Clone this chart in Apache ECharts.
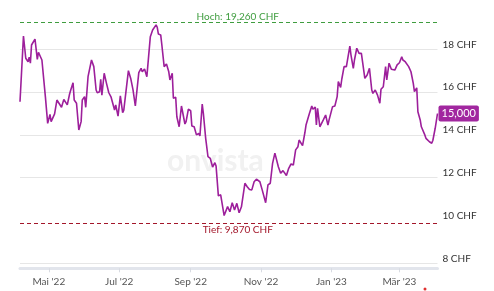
<!DOCTYPE html>
<html>
<head>
<meta charset="utf-8">
<script src="https://cdn.jsdelivr.net/npm/echarts@6/dist/echarts.min.js"></script>
<style>
html,body{margin:0;padding:0;background:#fff;}
#chart{width:494px;height:291px;}
</style>
</head>
<body>
<div id="chart"></div>
<script>
// Start date of the series (day 0)
const startDate = [2022, 3, 6]; // 6 Apr 2022
// Trading days (offset in days from start) and closing prices in CHF
const dayOffsets = [0,3,5,7,8,9,10,13,15,16,17,19,20,22,24,26,27,30,32,33,36,38,41,43,44,46,47,49,51,53,54,56,57,59,62,64,66,67,69,70,71,73,75,77,79,82,83,85,87,89,90,94,96,98,100,103,105,106,108,110,113,115,118,119,120,122,123,125,126,127,129,130,132,133,135,136,138,140,143,144,146,148,149,151,153,155,156,158,159,161,163,165,167,169,170,172,174,177,180,182,184,186,188,190,192,195,197,199,201,203,205,208,210,213,215,217,219,221,224,226,228,231,233,235,237,239,241,242,245,247,248,251,253,254,256,257,258,260,263,265,267,268,271,273,275,276,278,279,281,283,286,287,289,290,292,294,296,297,299,301,303,305,306,308,310,312,313,315,317,318,320,322,323,325,327,329,331,332,334,335,337,339,341,342,344,345,347,348,349,351,352,355,357,358,360,362];
const prices = [15.55,18.62,17.58,17.42,17.63,17.35,18.2,18.48,17.53,17.86,17.84,17.5,17.42,15.79,14.54,14.96,14.62,14.98,15.63,15.71,15.29,15.66,15.4,15.91,16.1,16.44,15.63,15.48,14.23,14.62,15.63,15.79,15.29,16.72,17.5,17.19,16.1,15.97,16.02,16.6,15.86,16.88,16.41,15.97,15.76,15.16,15.4,14.88,15.82,15.04,15.16,17.0,16.64,16.1,15.35,16.91,17.11,16.95,17.08,16.72,18.59,18.9,19.14,19.03,18.71,18.67,18.2,17.19,17.11,17.31,16.95,16.57,16.88,15.71,15.76,14.85,14.38,15.35,14.51,14.62,15.2,15.13,14.42,14.38,14.0,14.07,13.95,15.44,15.0,13.84,12.98,12.9,12.5,12.7,12.55,11.15,11.2,10.23,10.65,10.41,10.83,10.49,10.8,10.36,10.64,11.74,11.58,11.45,11.43,11.81,11.93,11.81,11.43,10.83,11.66,11.74,12.67,13.15,12.51,12.21,12.33,12.1,12.44,12.64,12.59,13.3,13.45,13.76,13.5,14.1,14.46,15.01,15.35,15.2,15.3,14.46,15.24,14.38,14.7,14.93,14.46,14.7,15.32,15.35,15.79,16.49,16.22,16.6,17.19,17.19,18.15,17.73,17.11,17.5,18.05,17.81,17.81,17.42,16.64,16.8,17.11,16.1,15.94,16.1,15.86,15.48,16.13,16.25,17.19,16.57,17.35,17.07,17.1,17.03,17.27,17.37,17.65,17.5,17.42,17.42,17.19,16.95,16.41,16.02,16.2,15.08,14.7,14.38,14.45,14.0,13.84,13.68,13.61,13.75,14.31,15.0];
// X axis tick dates and labels
const tickDates = [[2022,4,1],[2022,6,1],[2022,8,1],[2022,10,1],[2023,0,1],[2023,2,1]];
const tickLabels = ["Mai '22","Jul '22","Sep '22","Nov '22","Jan '23","Mär '23"];
// Y axis ticks
const yTicks = [8,10,12,14,16,18,20];
const highValue = 19.26, highLabel = 'Hoch: 19,260 CHF';
const lowValue = 9.87, lowLabel = 'Tief: 9,870 CHF';
const lastLabel = '15,000';

const FONT = 'Lato';
const ts = (y,m,d) => new Date(y,m,d).getTime();
const data = dayOffsets.map((d,i) => [ts(startDate[0],startDate[1],startDate[2]+d), prices[i]]);
const tickTs = tickDates.map(t => ts(t[0],t[1],t[2]));
const purple = '#9d1f9b';

const chart = echarts.init(document.getElementById('chart'), null, {renderer:'canvas'});
chart.setOption({
  animation:false,
  grid:{left:20,right:56.5,top:6.5,bottom:27.7,containLabel:false},
  graphic:[
    {type:'text',left:167,top:146,z:-10,style:{text:'onvista',font:'bold 30px '+FONT,fill:'#f1f1f1'}},
    {type:'circle',shape:{cx:425,cy:289,r:1.5},style:{fill:'#e03030'}}
  ],
  xAxis:{
    type:'value',
    min:data[0][0], max:data[data.length-1][0],
    offset:5,
    axisLine:{show:true,lineStyle:{color:'#e2e5ec',width:3}},
    axisTick:{show:true,customValues:tickTs,length:4,lineStyle:{color:'#d8dbe2',width:1}},
    axisLabel:{customValues:tickTs,margin:8,color:'#555',fontFamily:FONT,fontSize:10,
      formatter:v=>{const i=tickTs.indexOf(v);return i>=0?tickLabels[i]:'';}},
    splitLine:{show:false}
  },
  yAxis:{
    type:'value',position:'right',min:yTicks[0],max:yTicks[yTicks.length-1],interval:2,
    axisLine:{show:false},axisTick:{show:false},
    axisLabel:{margin:5,color:'#333',fontFamily:FONT,fontSize:10,verticalAlign:'bottom',
      formatter:v=>v===20?'':v+' CHF'},
    splitLine:{show:true,lineStyle:{width:1,color:['#e6e6e6','transparent','#e6e6e6','#e6e6e6','#e6e6e6','#e6e6e6','transparent']}}
  },
  series:[{
    type:'line',data:data,showSymbol:false,symbol:'none',
    lineStyle:{color:purple,width:1.6},
    endLabel:{show:true,formatter:lastLabel,backgroundColor:'#a1279f',color:'#fff',
      padding:[3,3,2,3],fontFamily:FONT,fontSize:11,distance:1,borderRadius:2},
    markLine:{
      symbol:'none',silent:true,animation:false,
      data:[
        {yAxis:highValue,lineStyle:{color:'#3f9d3f',type:[4,3],width:1},
          label:{formatter:highLabel,position:'insideMiddleTop',distance:1,offset:[9,0],color:'#3f9d3f',fontFamily:FONT,fontSize:10}},
        {yAxis:lowValue,lineStyle:{color:'#a3162a',type:[4,3],width:1},
          label:{formatter:lowLabel,position:'insideMiddleBottom',distance:1,offset:[9,0],color:'#a3162a',fontFamily:FONT,fontSize:10}}
      ]
    }
  }]
});
</script>
</body>
</html>
